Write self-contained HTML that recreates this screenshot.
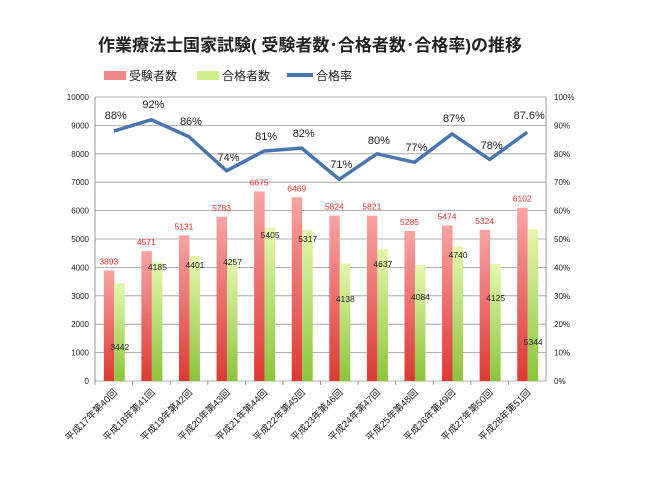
<!DOCTYPE html>
<html><head><meta charset="utf-8"><style>
body{margin:0;background:#fff;}
svg{display:block;font-family:"Liberation Sans","Noto Sans CJK JP",sans-serif;}
</style></head><body>
<svg id="s" width="650" height="488" viewBox="0 0 650 488" xmlns="http://www.w3.org/2000/svg">
<defs>
<linearGradient id="r" x1="0" y1="0" x2="0" y2="1"><stop offset="0" stop-color="#f8a4a4"/><stop offset="1" stop-color="#dc3a34"/></linearGradient>
<linearGradient id="g" x1="0" y1="0" x2="0" y2="1"><stop offset="0" stop-color="#e4f7ae"/><stop offset="1" stop-color="#8cc43c"/></linearGradient>
</defs>
<text x="310" y="51" text-anchor="middle" font-size="17" font-weight="bold" fill="#222">作業療法士国家試験( 受験者数･合格者数･合格率)の推移</text>
<rect x="104" y="71" width="22" height="9" fill="#f08a8a"/><text x="129" y="80" font-size="12" fill="#222">受験者数</text>
<rect x="197" y="71" width="22" height="9" fill="#cdee8a"/><text x="222" y="80" font-size="12" fill="#222">合格者数</text>
<rect x="287" y="73" width="26" height="4" fill="#4a76b0"/><text x="316" y="80" font-size="12" fill="#222">合格率</text>
<g id="c"></g>
</svg>
<script>
var c=document.getElementById('c'),h='';
var L=95,R=546,T=97,B=381,cw=(R-L)/12;
for(var i=0;i<=10;i++){var y=B-(B-T)*i/10;
h+='<line x1="'+L+'" x2="'+R+'" y1="'+y+'" y2="'+y+'" stroke="#999" stroke-width="0.8"/>';
h+='<text x="'+(L-6)+'" y="'+(y+3)+'" text-anchor="end" font-size="8" fill="#222">'+(i*1000)+'</text>';
h+='<text x="'+(R+8)+'" y="'+(y+3)+'" font-size="8" fill="#222">'+(i*10)+'%</text>';}
h+='<line x1="'+L+'" x2="'+L+'" y1="'+T+'" y2="'+B+'" stroke="#999"/><line x1="'+R+'" x2="'+R+'" y1="'+T+'" y2="'+B+'" stroke="#999"/>';
var a=[3893,4571,5131,5783,6675,6469,5824,5821,5285,5474,5324,6102];
var b=[3442,4185,4401,4257,5405,5317,4138,4637,4084,4740,4125,5344];
var by=[350,270,268,265,238,242,302,267,300,258,301,345];
var p=[88,92,86,74,81,82,71,80,77,87,78,87.6];
var pl=['88%','92%','86%','74%','81%','82%','71%','80%','77%','87%','78%','87.6%'];
var ply=[119,108,125,161,140,137,168,144,151,122,149,119];
var names=['17','18','19','20','21','22','23','24','25','26','27','28'];
var pts=[];
for(var i=0;i<12;i++){var cx=L+cw*(i+0.5);
var ya=B-(B-T)*a[i]/10000,yb=B-(B-T)*b[i]/10000;
h+='<rect x="'+(cx-10)+'" y="'+ya+'" width="10.5" height="'+(B-ya)+'" fill="url(#r)"/>';
h+='<rect x="'+(cx+0.5)+'" y="'+yb+'" width="10.5" height="'+(B-yb)+'" fill="url(#g)"/>';
h+='<text x="'+(cx-5)+'" y="'+(ya-6)+'" text-anchor="middle" font-size="8.5" fill="#d8302c">'+a[i]+'</text>';
h+='<text x="'+(cx+6)+'" y="'+by[i]+'" text-anchor="middle" font-size="8.5" fill="#222">'+b[i]+'</text>';
h+='<line x1="'+(L+cw*i)+'" x2="'+(L+cw*i)+'" y1="'+B+'" y2="'+(B+4)+'" stroke="#999"/>';
pts.push(cx+','+(B-(B-T)*p[i]/100));
h+='<text x="'+(cx+2)+'" y="'+ply[i]+'" text-anchor="middle" font-size="11" fill="#222">'+pl[i]+'</text>';
h+='<text transform="translate('+(cx+4)+','+(B+12)+') rotate(-45)" text-anchor="end" font-size="9.5" fill="#222">平成'+names[i]+'年第'+(40+i)+'回</text>';
}
h+='<polyline points="'+pts.join(' ')+'" fill="none" stroke="#4a76b0" stroke-width="3.5" stroke-linejoin="round"/>';
c.innerHTML=h;
</script>
</body></html>
